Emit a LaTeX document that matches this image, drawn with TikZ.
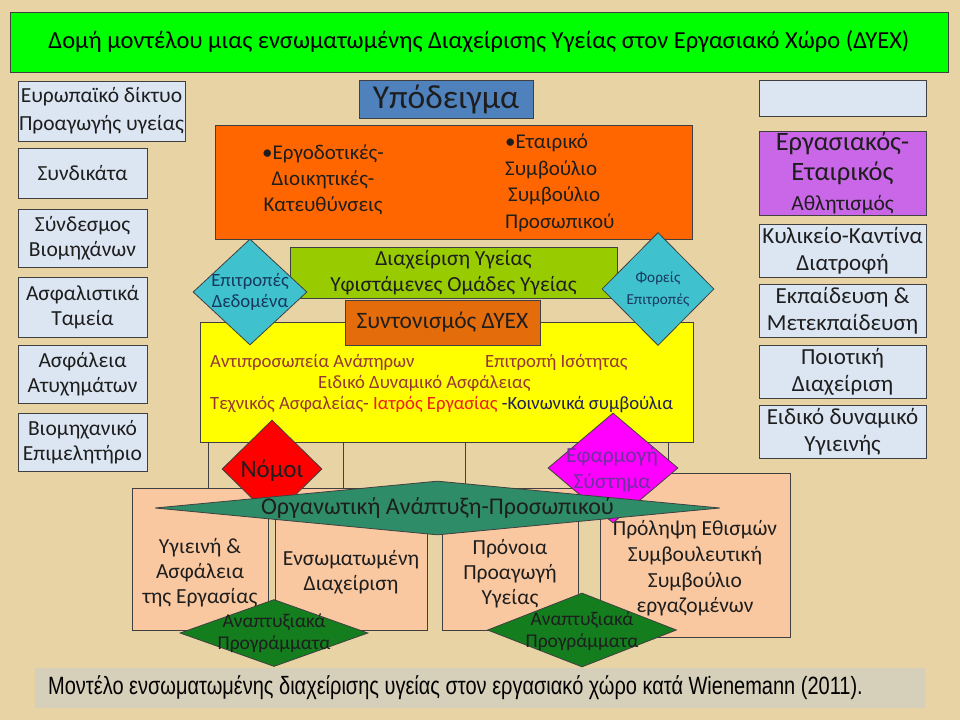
\documentclass[tikz,border=0pt]{standalone}
\usepackage{fontspec}
\setmainfont{Carlito}
\newfontfamily\captionfont[FakeStretch=0.8]{Liberation Sans}
\usetikzlibrary{shapes.geometric}

\definecolor{parchment}{RGB}{231,211,163}
\definecolor{boxline}{RGB}{64,64,64}
\definecolor{paleblue}{RGB}{220,230,242}
\definecolor{titlegreen}{RGB}{0,255,0}
\definecolor{steelblue}{RGB}{79,129,189}
\definecolor{orangebox}{RGB}{255,102,0}
\definecolor{limebox}{RGB}{153,204,0}
\definecolor{rustbox}{RGB}{228,108,10}
\definecolor{yellowbox}{RGB}{255,255,0}
\definecolor{cyanbox}{RGB}{64,194,206}
\definecolor{orchid}{RGB}{202,102,232}
\definecolor{peach}{RGB}{250,200,160}
\definecolor{redbox}{RGB}{255,0,0}
\definecolor{magentabox}{RGB}{255,0,255}
\definecolor{teal}{RGB}{46,140,104}
\definecolor{darkgreen}{RGB}{20,125,30}
\definecolor{captionbox}{RGB}{214,208,186}
\definecolor{maroontext}{RGB}{149,55,53}
\definecolor{redtext}{RGB}{235,30,30}
\definecolor{navytext}{RGB}{30,30,90}
\definecolor{purpletext}{RGB}{112,48,160}
\definecolor{bluetext}{RGB}{23,55,94}
\definecolor{inktext}{RGB}{30,30,30}

\begin{document}
\begin{tikzpicture}[x=1pt,y=-1pt]
\tikzset{
  plainbox/.style={rectangle,draw=boxline,line width=0.8pt,inner sep=1pt,align=center,text=inktext},
  sidebox/.style={plainbox,fill=paleblue,minimum width=129pt,font=\fontsize{21.5}{25}\selectfont},
  rightbox/.style={sidebox,minimum width=167pt,font=\fontsize{23}{27}\selectfont},
  peachbox/.style={plainbox,fill=peach},
  diabox/.style={diamond,draw=boxline,line width=0.8pt,inner sep=0pt},
  boxtext/.style={inner sep=0pt,align=center,text=inktext,font=\fontsize{21.5}{25}\selectfont},
  yellowtext/.style={inner sep=0pt,anchor=west,text=maroontext,font=\fontsize{18.7}{22}\selectfont}
}
\useasboundingbox (0,0) rectangle (960,720);
\fill[parchment] (0,0) rectangle (960,720);

\node[plainbox,fill=titlegreen,text=black,minimum width=938pt,minimum height=60pt,font=\fontsize{24.5}{28}\selectfont] (n_title) at (479,42) {Δομή μοντέλου μιας ενσωματωμένης Διαχείρισης Υγείας στον Εργασιακό Χώρο (ΔΥΕΧ)};

\node[sidebox,minimum width=167pt,minimum height=60pt,font=\fontsize{21.5}{28}\selectfont] (n_diktyo) at (101.5,111) {Ευρωπαϊκό δίκτυο\\Προαγωγής υγείας};
\node[sidebox,minimum height=50pt] (n_syndikata) at (82.5,173) {Συνδικάτα};
\node[sidebox,minimum height=58pt] (n_syndesmos) at (82.5,238) {Σύνδεσμος\\Βιομηχάνων};
\node[sidebox,minimum height=60pt] (n_tameia) at (82.5,307) {Ασφαλιστικά\\Ταμεία};
\node[sidebox,minimum height=58pt] (n_atyxhmata) at (82.5,374) {Ασφάλεια\\Ατυχημάτων};
\node[sidebox,minimum height=58pt] (n_epimelitirio) at (82.5,442) {Βιομηχανικό\\Επιμελητήριο};

\node[rightbox,minimum height=36pt] (n_keno) at (842.5,98) {};
\node[rightbox,fill=orchid,minimum height=80pt,font=\fontsize{26.5}{30}\selectfont] (n_athlitismos) at (842.5,173) {Εργασιακός-\\Εταιρικός\\{\fontsize{21.5}{30}\selectfont Αθλητισμός}};
\node[rightbox,minimum height=53pt] (n_kylikeio) at (842.5,250.5) {Κυλικείο-Καντίνα\\Διατροφή};
\node[rightbox,minimum height=53pt] (n_ekpaideusi) at (842.5,310.5) {Εκπαίδευση \&\\Μετεκπαίδευση};
\node[rightbox,minimum height=53pt] (n_poiotiki) at (842.5,371.5) {Ποιοτική\\Διαχείριση};
\node[rightbox,minimum height=53pt] (n_ygieinis) at (842.5,431.5) {Ειδικό δυναμικό\\Υγιεινής};

\node[plainbox,fill=steelblue,minimum width=174pt,minimum height=38pt,font=\fontsize{33.5}{36}\selectfont] (n_ypodeigma) at (446,99) {Υπόδειγμα};
\node[plainbox,fill=orangebox,minimum width=477pt,minimum height=114pt] (n_dioikisi) at (453.5,182) {};
\node[boxtext,font=\fontsize{21}{26}\selectfont] (t_dioikisi) at (323,180) {•Εργοδοτικές-\\Διοικητικές-\\Κατευθύνσεις};
\node[boxtext,align=left,anchor=west,font=\fontsize{21}{26.5}\selectfont] (t_symvoulio) at (505,183) {•Εταιρικό\\Συμβούλιο\\\hspace{3pt}Συμβούλιο\\Προσωπικού};
\node[plainbox,fill=limebox,minimum width=327pt,minimum height=51pt,font=\fontsize{21.5}{26}\selectfont] (n_ygeia) at (453.5,272.5) {Διαχείριση Υγείας\\Υφιστάμενες Ομάδες Υγείας};

\draw[boxline,line width=0.8pt] (208,430) rectangle (343,500);
\draw[boxline,line width=0.8pt] (465,430) rectangle (668,500);

\node[plainbox,fill=yellowbox,minimum width=493pt,minimum height=120pt] (n_prosopiko) at (446.5,382) {};
\node[plainbox,fill=rustbox,minimum width=195pt,minimum height=45pt,font=\fontsize{23.5}{27}\selectfont] (n_syntonismos) at (442.5,322.5) {Συντονισμός ΔΥΕΧ};
\node[yellowtext] (t_anapiron) at (210,362) {Αντιπροσωπεία Ανάπηρων};
\node[yellowtext] (t_isotita) at (485,362) {Επιτροπή Ισότητας};
\node[yellowtext] (t_dynamiko) at (318,383) {Ειδικό Δυναμικό Ασφάλειας};
\node[yellowtext] (t_texnikos) at (210,405) {Τεχνικός Ασφαλείας- \textcolor{redtext}{Ιατρός Εργασίας} \textcolor{navytext}{-Κοινωνικά συμβούλια}};

\node[diabox,fill=cyanbox,minimum width=114pt,minimum height=106pt] (n_dedomena) at (250,292) {};
\node[boxtext,text=bluetext,font=\fontsize{18.7}{21}\selectfont] (t_dedomena) at (n_dedomena) {Επιτροπές\\Δεδομένα};
\node[diabox,fill=cyanbox,minimum width=112pt,minimum height=113pt] (n_foreis) at (658,289) {};
\node[boxtext,text=bluetext,font=\fontsize{15.2}{22}\selectfont] (t_foreis) at (n_foreis) {Φορείς\\Επιτροπές};

\node[peachbox,minimum width=136pt,minimum height=142pt] (n_asfaleia) at (200,559) {};
\node[peachbox,minimum width=152pt,minimum height=142pt] (n_ensomatomeni) at (351,559) {};
\node[peachbox,minimum width=136pt,minimum height=142pt] (n_pronoia) at (510,559) {};
\node[peachbox,minimum width=190pt,minimum height=164pt] (n_prolipsi) at (695,555) {};
\node[boxtext] (t_asfaleia) at (200,573) {Υγιεινή \&\\Ασφάλεια\\της Εργασίας};
\node[boxtext] (t_ensomatomeni) at (351,572.5) {Ενσωματωμένη\\Διαχείριση};
\node[boxtext] (t_pronoia) at (510,574) {Πρόνοια\\Προαγωγή\\Υγείας};
\node[boxtext,font=\fontsize{21.5}{25.7}\selectfont] (t_prolipsi) at (695,568.5) {Πρόληψη Εθισμών\\Συμβουλευτική\\Συμβούλιο\\εργαζομένων};

\node[diabox,fill=redbox,minimum width=100pt,minimum height=98pt] (n_nomoi) at (272,469) {};
\node[boxtext,font=\fontsize{25}{28}\selectfont] (t_nomoi) at (272,471) {Νόμοι};
\node[diabox,fill=magentabox,minimum width=130pt,minimum height=110pt] (n_efarmogi) at (613,468) {};
\node[boxtext,text=purpletext,font=\fontsize{21.5}{26}\selectfont] (t_efarmogi) at (612,470) {Εφαρμογή\\Σύστημα};

\node[diabox,fill=teal,minimum width=565pt,minimum height=54pt] (n_organosi) at (437.5,508) {};
\node[boxtext,font=\fontsize{24}{26}\selectfont] (t_organosi) at (n_organosi) {Οργανωτική Ανάπτυξη-Προσωπικού};

\node[diabox,fill=darkgreen,minimum width=188pt,minimum height=67pt] (n_programmata1) at (274,633) {};
\node[boxtext,font=\fontsize{19.5}{22}\selectfont] (t_programmata1) at (n_programmata1) {Αναπτυξιακά\\Προγράμματα};
\node[diabox,fill=darkgreen,minimum width=189pt,minimum height=74pt] (n_programmata2) at (582,630) {};
\node[boxtext,font=\fontsize{19.5}{22}\selectfont] (t_programmata2) at (582,631) {Αναπτυξιακά\\Προγράμματα};

\node[rectangle,fill=captionbox,minimum width=890pt,minimum height=40pt] (n_caption) at (480,688) {};
\node[inner sep=0pt,anchor=west,text=black,font=\captionfont\fontsize{25}{28}\selectfont] (t_caption) at (48,688) {Μοντέλο ενσωματωμένης διαχείρισης υγείας στον εργασιακό χώρο κατά Wienemann (2011).};
\end{tikzpicture}
\end{document}
